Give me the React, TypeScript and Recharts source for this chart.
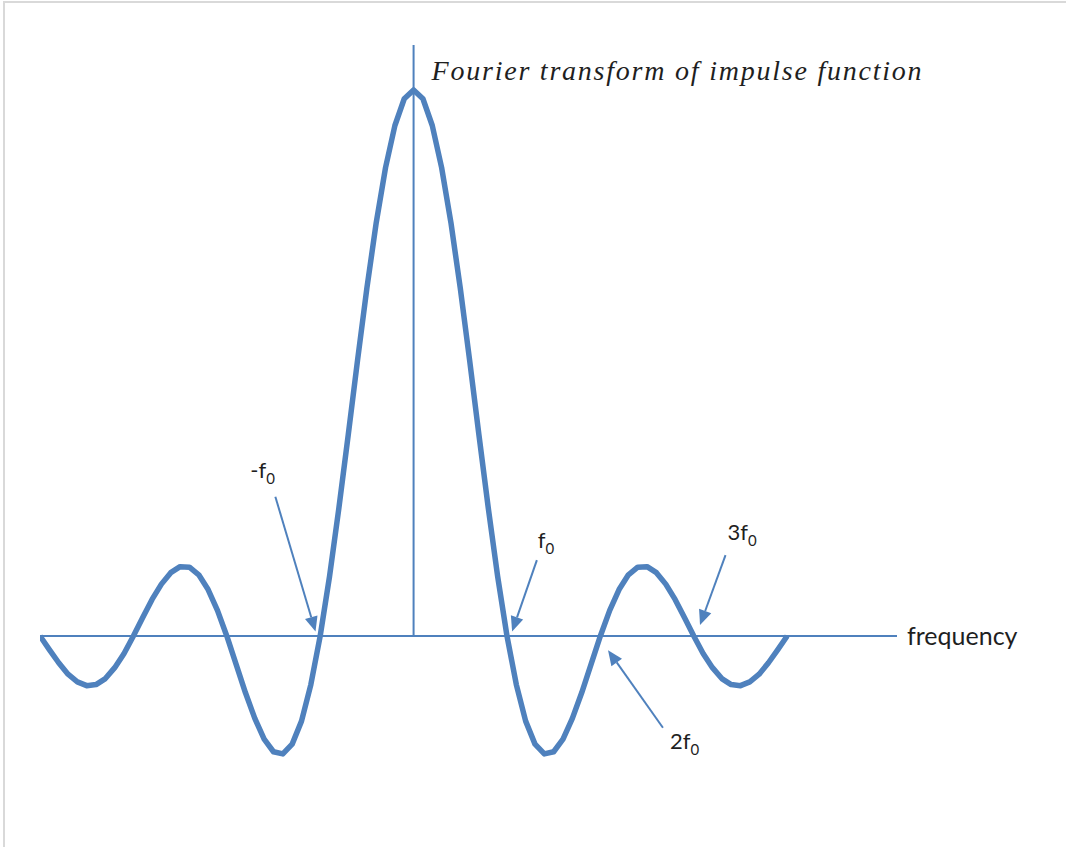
import React from 'react';
import { LineChart, Line, XAxis, YAxis, ReferenceLine } from 'recharts';

// sample positions, in multiples of f0
const frequencies = [
  -4.0, -3.9, -3.8, -3.7, -3.6, -3.5, -3.4, -3.3, -3.2, -3.1,
  -3.0, -2.9, -2.8, -2.7, -2.6, -2.5, -2.4, -2.3, -2.2, -2.1,
  -2.0, -1.9, -1.8, -1.7, -1.6, -1.5, -1.4, -1.3, -1.2, -1.1,
  -1.0, -0.9, -0.8, -0.7, -0.6, -0.5, -0.4, -0.3, -0.2, -0.1,
  0.0,
  0.1, 0.2, 0.3, 0.4, 0.5, 0.6, 0.7, 0.8, 0.9, 1.0,
  1.1, 1.2, 1.3, 1.4, 1.5, 1.6, 1.7, 1.8, 1.9, 2.0,
  2.1, 2.2, 2.3, 2.4, 2.5, 2.6, 2.7, 2.8, 2.9, 3.0,
  3.1, 3.2, 3.3, 3.4, 3.5, 3.6, 3.7, 3.8, 3.9, 4.0,
];

// amplitude (peak = 1)
const amplitudes = [
  0.000, -0.025, -0.049, -0.070, -0.084, -0.091, -0.089, -0.078, -0.058, -0.032,
  0.000, 0.034, 0.067, 0.095, 0.116, 0.127, 0.126, 0.112, 0.085, 0.047,
  0.000, -0.052, -0.104, -0.151, -0.189, -0.212, -0.216, -0.198, -0.156, -0.089,
  0.000, 0.109, 0.234, 0.368, 0.505, 0.637, 0.757, 0.858, 0.935, 0.984,
  1.000,
  0.984, 0.935, 0.858, 0.757, 0.637, 0.505, 0.368, 0.234, 0.109, 0.000,
  -0.089, -0.156, -0.198, -0.216, -0.212, -0.189, -0.151, -0.104, -0.052, 0.000,
  0.047, 0.085, 0.112, 0.126, 0.127, 0.116, 0.095, 0.067, 0.034, 0.000,
  -0.032, -0.058, -0.078, -0.089, -0.091, -0.084, -0.070, -0.049, -0.025, 0.000,
];

const callouts = ['-f', 'f', '3f', '2f'];
const subscript = '0';

const BLUE = '#4f81bd';
const TEXT = '#1f1f1f';

// extent of the drawn axes (data units)
const X_DOMAIN = [-4, 5.176];
const Y_DOMAIN = [-0.3004, 1.0824];

// arrow annotations: tail -> tip in data units, label offset in px from the tail
const arrows = [
  { text: callouts[0], from: { x: -1.48, y: 0.255 }, to: { x: -1.05, y: 0.008 }, dx: -25, dy: -19 },
  { text: callouts[1], from: { x: 1.32, y: 0.139 }, to: { x: 1.055, y: 0.008 }, dx: 1, dy: -12 },
  { text: callouts[2], from: { x: 3.34, y: 0.148 }, to: { x: 3.067, y: 0.02 }, dx: 2, dy: -15 },
  { text: callouts[3], from: { x: 2.67, y: -0.168 }, to: { x: 2.082, y: -0.026 }, dx: 7, dy: 21 },
];

const data = frequencies.map((f, i) => ({ f, amp: amplitudes[i] }));

const arrowShape = (text: string, dx: number, dy: number) => (props: any) => {
  const { x1, y1, x2, y2 } = props;
  const ang = Math.atan2(y2 - y1, x2 - x1);
  const len = 15;
  const hw = 6.5;
  const bx = x2 - len * Math.cos(ang);
  const by = y2 - len * Math.sin(ang);
  const px = -Math.sin(ang) * hw;
  const py = Math.cos(ang) * hw;
  return (
    <g>
      <line x1={x1} y1={y1} x2={bx} y2={by} stroke={BLUE} strokeWidth={2} />
      <polygon points={`${x2},${y2} ${bx + px},${by + py} ${bx - px},${by - py}`} fill={BLUE} />
      <text x={x1 + dx} y={y1 + dy} fill={TEXT} fontFamily="Lato, 'Open Sans', sans-serif" fontSize={22}>
        {text}
        <tspan dy={6} fontSize={15}>{subscript}</tspan>
      </text>
    </g>
  );
};

const axisLabel = (text: string) => (props: any) => {
  const { x1, y1, x2, y2 } = props;
  return (
    <g>
      <line x1={x1} y1={y1} x2={x2} y2={y2} stroke={BLUE} strokeWidth={2} />
      <text x={x2 + 10} y={y2 + 9} fill={TEXT} fontFamily="Lato, 'Open Sans', sans-serif" fontSize={25}>
        {text}
      </text>
    </g>
  );
};

const titleShape = (text: string) => (props: any) => {
  const { x1, y1, x2, y2 } = props;
  const top = Math.min(y1, y2);
  return (
    <g>
      <line x1={x1} y1={y1} x2={x2} y2={y2} stroke={BLUE} strokeWidth={2} />
      <text
        x={x1 + 18}
        y={top + 35}
        fill={TEXT}
        fontFamily="'Liberation Serif', 'DejaVu Serif', serif"
        fontStyle="italic"
        fontSize={28}
        textLength={490}
        lengthAdjust="spacing"
      >
        {text}
      </text>
    </g>
  );
};

export default function App() {
  return (
    <div style={{ position: 'absolute', left: 0, top: 0, width: 1066, height: 847, background: '#fff' }}>
      <div
        style={{
          position: 'absolute',
          left: 3,
          top: 1,
          right: 0,
          bottom: 0,
          borderTop: '2px solid #d9d9d9',
          borderLeft: '2px solid #d9d9d9',
        }}
      />
      <LineChart
        width={1066}
        height={847}
        data={data}
        margin={{ top: 45, right: 169, bottom: 47, left: 40 }}
        style={{ position: 'absolute', left: 0, top: 0 }}
      >
        <XAxis type="number" dataKey="f" domain={X_DOMAIN} hide allowDataOverflow />
        <YAxis type="number" domain={Y_DOMAIN} hide allowDataOverflow />
        <Line
          type="linear"
          dataKey="amp"
          stroke={BLUE}
          strokeWidth={5.5}
          strokeLinejoin="round"
          dot={false}
          activeDot={false}
          isAnimationActive={false}
        />
        <ReferenceLine
          segment={[{ x: X_DOMAIN[0], y: 0 }, { x: X_DOMAIN[1], y: 0 }]}
          ifOverflow="visible"
          shape={axisLabel('frequency')}
        />
        <ReferenceLine
          segment={[{ x: 0, y: 0 }, { x: 0, y: Y_DOMAIN[1] }]}
          ifOverflow="visible"
          shape={titleShape('Fourier transform of impulse function')}
        />
        {arrows.map((a, i) => (
          <ReferenceLine
            key={i}
            segment={[a.from, a.to]}
            ifOverflow="visible"
            shape={arrowShape(a.text, a.dx, a.dy)}
          />
        ))}
      </LineChart>
    </div>
  );
}
